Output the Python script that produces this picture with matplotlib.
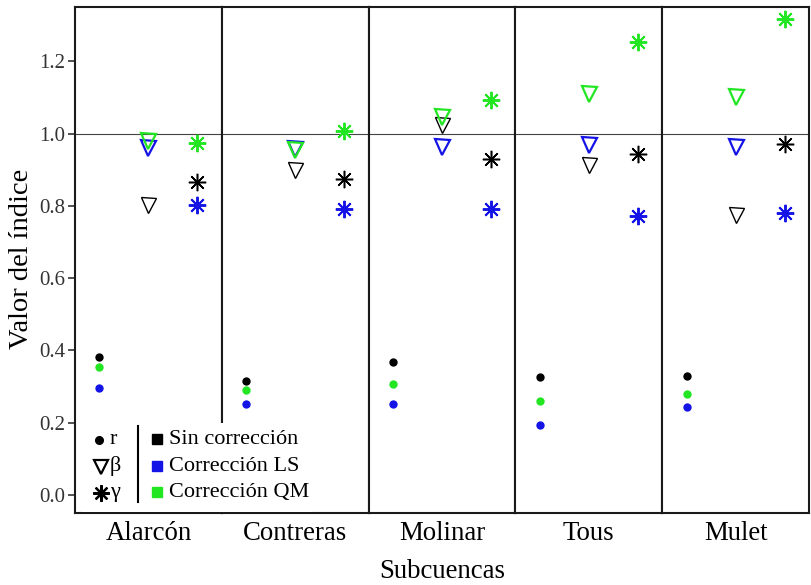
import matplotlib
matplotlib.use("Agg")
import matplotlib.pyplot as plt

plt.rcParams['font.family'] = ['Liberation Serif', 'DejaVu Serif']

# Subcuencas and index values for each correction
subcuencas = ["Alarcón", "Contreras", "Molinar", "Tous", "Mulet"]

r_sin = [0.382, 0.315, 0.369, 0.326, 0.330]
r_ls = [0.297, 0.251, 0.251, 0.194, 0.244]
r_qm = [0.355, 0.289, 0.308, 0.261, 0.278]

beta_sin = [0.802, 0.900, 1.024, 0.913, 0.774]
beta_ls = [0.960, 0.958, 0.964, 0.968, 0.964]
beta_qm = [0.978, 0.953, 1.045, 1.108, 1.102]

gamma_sin = [0.866, 0.875, 0.930, 0.944, 0.971]
gamma_ls = [0.803, 0.791, 0.791, 0.772, 0.780]
gamma_qm = [0.973, 1.006, 1.093, 1.252, 1.316]

correcciones = ["Sin corrección", "Corrección LS", "Corrección QM"]
colores = ["#000000", "#1414E6", "#22E622"]
indices = ["r", "β", "γ"]
yticks = [0.0, 0.2, 0.4, 0.6, 0.8, 1.0, 1.2]

series = {
    "r": [r_sin, r_ls, r_qm],
    "β": [beta_sin, beta_ls, beta_qm],
    "γ": [gamma_sin, gamma_ls, gamma_qm],
}
ASTER = (8, 2, 0)
estilos = {
    "r": dict(marker="o", ms=6.0, mew=(0, 0, 0), filled=True),
    "β": dict(marker="v", ms=10.8, mew=(1.0, 1.6, 1.6), filled=False),
    "γ": dict(marker=ASTER, ms=12.5, mew=(1.1, 1.4, 1.4), filled=False),
}

W, H = 811, 585
fig = plt.figure(figsize=(W / 100, H / 100), dpi=100)

left_px, right_px, top_px, bottom_px = 75, 809, 7, 513
n = len(subcuencas)
pw = (right_px - left_px) / n

for i, nombre in enumerate(subcuencas):
    x0 = (left_px + i * pw) / W
    ax = fig.add_axes([x0, 1 - bottom_px / H, pw / W, (bottom_px - top_px) / H])
    ax.axhline(1.0, color="#444444", lw=0.8, zorder=1)
    for k, idx in enumerate(indices):
        est = estilos[idx]
        for vals, col, mew in zip(series[idx], colores, est["mew"]):
            kw = dict(linestyle="none", marker=est["marker"], ms=est["ms"],
                      mew=mew, zorder=3)
            if est["filled"]:
                kw.update(color=col, mfc=col, mec=col)
            else:
                kw.update(color=col, mfc="none", mec=col)
            ax.plot([k + 1], [vals[i]], **kw)
    ax.set_xlim(0.5, 3.5)
    ax.set_ylim(-0.05, 1.35)
    ax.set_xticks([2])
    ax.set_xticklabels([nombre], fontsize=19.3)
    ax.tick_params(axis="x", length=0, pad=6)
    for s in ax.spines.values():
        s.set_linewidth(1.5)
        s.set_color("#1a1a1a")
    if i == 0:
        ax.set_yticks(yticks)
        ax.set_yticklabels([f"{v:.1f}" for v in yticks], fontsize=15,
                           color="#333333")
        ax.tick_params(axis="y", length=5, width=1.2, pad=2, color="#333333")
    else:
        ax.set_yticks([])

fig.text(22 / W, 1 - 259 / H, "Valor del índice", rotation=90, fontsize=20.5,
         ha="center", va="center")
fig.text((left_px + right_px) / 2 / W, 1 - 571 / H, "Subcuencas", fontsize=19.3,
         ha="center", va="center")

# Legend panel drawn in pixel coordinates
lx0, lx1, ly0, ly1 = 82, 312, 423, 512
leg = fig.add_axes([lx0 / W, 1 - ly1 / H, (lx1 - lx0) / W, (ly1 - ly0) / H])
leg.set_xlim(lx0, lx1)
leg.set_ylim(ly1, ly0)
leg.set_axis_off()
leg.add_patch(plt.Rectangle((lx0, ly0), lx1 - lx0, ly1 - ly0, color="white",
                            zorder=0))
filas = [440, 466.5, 493]
for y, idx in zip(filas, indices):
    est = estilos[idx]
    if est["filled"]:
        leg.plot([99], [y], marker="o", ms=5.5, color="black", linestyle="none")
    else:
        leg.plot([101], [y], marker=est["marker"], ms=est["ms"] * 0.95,
                 mfc="none", mec="black", mew=1.6, linestyle="none")
    leg.text(110, y, idx, fontsize=16, ha="left", va="center")
leg.plot([138, 138], [426, 502], color="black", lw=1.5)
for y, lab, col in zip(filas, correcciones, colores):
    leg.plot([157], [y - 1], marker="s", ms=6.5, color=col, linestyle="none")
    leg.text(169, y, lab, fontsize=16, ha="left", va="center")

fig.savefig("out.png", dpi=100)
